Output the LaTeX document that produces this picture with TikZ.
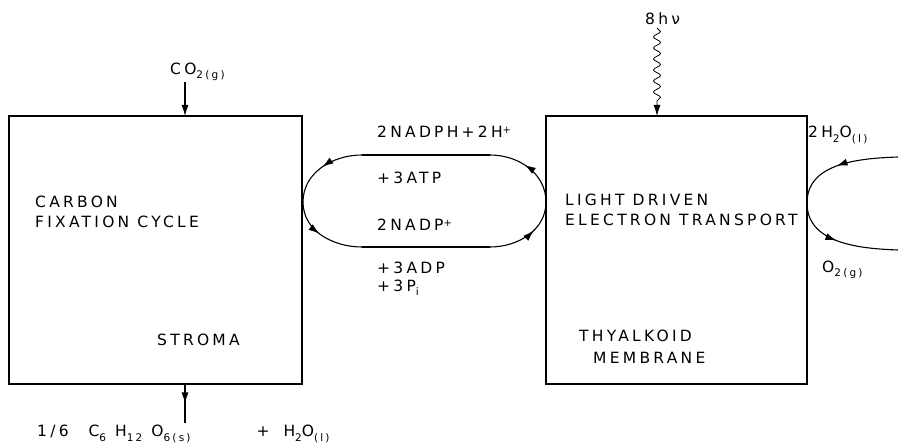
\documentclass[tikz,border=0pt]{standalone}
\usepackage{fontspec}
\setmainfont{DejaVu Sans}[LetterSpace=21]
\usetikzlibrary{arrows.meta,decorations.markings,decorations.pathmorphing}
\newcommand\chsub[1]{\raisebox{-0.5ex}{\fontsize{10.5}{10.5}\selectfont #1}}
\newcommand\chsup[1]{\raisebox{0.45ex}{\fontsize{10}{10}\selectfont #1}}
\begin{document}
\begin{tikzpicture}[x=1pt,y=-1pt,
  box/.style={draw, line width=1.3pt, inner sep=0pt},
  lbl/.style={font=\fontsize{15.5}{15.5}\selectfont, inner sep=0pt, anchor=west},
  flow/.style={line width=1.1pt},
  midarrow/.style={postaction={decorate}, decoration={markings,
     mark=at position #1 with {\arrow{Latex[length=11pt,width=7pt]}}}},
  tiparrow/.style={-{Latex[length=11pt,width=7pt]}}]
\useasboundingbox (0,0) rectangle (898,443);
\fill[white] (0,0) rectangle (898,443);

% boxes
\node[box, minimum width=293pt, minimum height=268pt] (cfc) at (155.5,250) {};
\node[box, minimum width=261pt, minimum height=268pt] (let) at (676.5,250) {};

% labels inside boxes
\node[lbl] (carbon) at (35,202) {CARBON};
\node[lbl] (fixation) at (35,222) {FIXATION CYCLE};
\node[lbl] (stroma) at (157,340) {STROMA};
\node[lbl] (light) at (565,200) {LIGHT DRIVEN};
\node[lbl] (electron) at (565,220) {ELECTRON TRANSPORT};
\node[lbl] (thy) at (579,336) {THYALKOID};
\node[lbl] (mem) at (593,358) {MEMBRANE};

% CO2 input
\node[lbl] (co2) at (170,72) {CO\chsub{2(g)}};
\coordinate (co2a) at (185,82);
\coordinate (co2b) at (185,116);
\draw[flow, tiparrow] (co2a) -- (co2b);

% glucose output
\coordinate (glca) at (185,384);
\coordinate (glcb) at (185,423);
\draw[flow, midarrow=0.5] (glca) -- (glcb);
\node[lbl] (glc) at (37,434) {1/6\hspace{20pt}C\chsub{6}\hspace{9pt}H\chsub{12}\hspace{9pt}O\chsub{6(s)}\hspace{66pt}+\hspace{14pt}H\chsub{2}O\chsub{(l)}};

% light input
\node[lbl] (hv) at (645,19) {8hν};
\coordinate (hva) at (657,28);
\coordinate (hvb) at (657,116);
\draw[flow, line width=0.8pt, tiparrow, decorate,
  decoration={snake, amplitude=3.5pt, segment length=11pt, post length=11pt}] (hva) -- (hvb);

% NADPH / NADP+ loop
\coordinate (L) at (303,202);
\coordinate (TL) at (362,155);
\coordinate (TR) at (490,155);
\coordinate (R) at (546,202);
\coordinate (BR) at (490,247);
\coordinate (BL) at (362,247);
\draw[flow, midarrow=0.55] (R) to[out=90,in=0] (TR);
\draw[flow] (TR) -- (TL);
\draw[flow, midarrow=0.5] (TL) to[out=180,in=90] (L);
\draw[flow, midarrow=0.45] (L) to[out=-90,in=180] (BL);
\draw[flow] (BL) -- (BR);
\draw[flow, midarrow=0.6] (BR) to[out=0,in=-90] (R);

\node[lbl] (nadph) at (377,132) {2NADPH+2H\chsup{+}};
\node[lbl] (atp) at (377,178) {+3ATP};
\node[lbl] (nadp) at (377,225) {2NADP\chsup{+}};
\node[lbl] (adp) at (377,268) {+3ADP};
\node[lbl] (pi) at (377,288) {+3P\chsub{i}};

% water / oxygen loop
\coordinate (wtop) at (898,157);
\coordinate (wmid) at (807,203);
\coordinate (wbot) at (898,250);
\draw[flow, midarrow=0.55] (wtop) to[out=182,in=90] (wmid);
\draw[flow, midarrow=0.45] (wmid) to[out=-90,in=178] (wbot);
\node[lbl] (h2o) at (808,135) {2H\chsub{2}O\chsub{(l)}};
\node[lbl] (o2) at (822,270) {O\chsub{2(g)}};
\end{tikzpicture}
\end{document}
